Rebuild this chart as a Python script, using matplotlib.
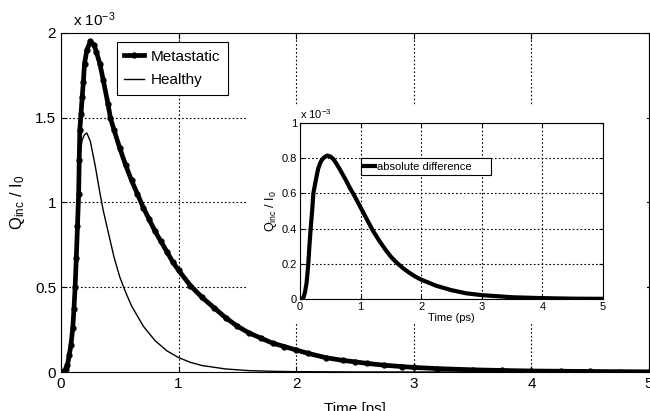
import matplotlib.pyplot as plt
from matplotlib.patches import Rectangle
import numpy as np

plt.rcParams['font.family'] = ['Liberation Sans', 'DejaVu Sans']
plt.rcParams['mathtext.default'] = 'regular'

# Time axis values (ps), signal in units of 1e-3
t_meta = [0, 0.02, 0.04, 0.055, 0.07, 0.085, 0.1, 0.11, 0.12, 0.13, 0.14, 0.15,
          0.155, 0.16, 0.17, 0.18, 0.19, 0.2, 0.22, 0.25, 0.28, 0.3, 0.33, 0.36,
          0.4, 0.42, 0.45, 0.5, 0.55, 0.6, 0.65, 0.7, 0.75, 0.8, 0.85, 0.9, 0.95,
          1.0, 1.1, 1.2, 1.3, 1.4, 1.5, 1.6, 1.7, 1.8, 1.9, 2.0, 2.1, 2.25, 2.4,
          2.5, 2.6, 2.75, 2.9, 3.0, 3.2, 3.5, 3.75, 4.0, 4.25, 4.5, 4.75, 5.0]
q_meta = [0, 0, 0.02, 0.04, 0.1, 0.16, 0.26, 0.37, 0.5, 0.67, 0.86, 1.05,
          1.25, 1.43, 1.52, 1.62, 1.71, 1.82, 1.9, 1.95, 1.93, 1.89, 1.82, 1.72,
          1.58, 1.5, 1.43, 1.32, 1.22, 1.13, 1.05, 0.97, 0.9, 0.83, 0.77, 0.71, 0.65,
          0.6, 0.51, 0.44, 0.38, 0.32, 0.27, 0.23, 0.2, 0.17, 0.15, 0.13, 0.11, 0.085, 0.068,
          0.06, 0.051, 0.04, 0.032, 0.027, 0.02, 0.013, 0.009, 0.006, 0.0045, 0.003, 0.002, 0.001]

t_healthy = [0, 0.02, 0.04, 0.055, 0.07, 0.085, 0.1, 0.11, 0.12, 0.13, 0.14, 0.15,
             0.16, 0.18, 0.2, 0.22, 0.25, 0.29, 0.33, 0.36, 0.4, 0.45, 0.5, 0.55,
             0.6, 0.7, 0.8, 0.9, 1.0, 1.1, 1.2, 1.4, 1.6, 1.8, 2.0, 2.5, 3.0, 4.0, 5.0]
q_healthy = [0, 0, 0.02, 0.04, 0.1, 0.16, 0.26, 0.37, 0.5, 0.67, 0.86, 1.05,
             1.28, 1.37, 1.40, 1.41, 1.36, 1.22, 1.06, 0.95, 0.83, 0.68, 0.56, 0.47,
             0.39, 0.27, 0.185, 0.125, 0.085, 0.057, 0.038, 0.018, 0.008, 0.004, 0.002, 0.0003, 0, 0, 0]

t_diff = [0, 0.03, 0.06, 0.083, 0.11, 0.137, 0.155, 0.176, 0.2, 0.22, 0.25, 0.275,
          0.3, 0.33, 0.36, 0.4, 0.45, 0.5, 0.55, 0.6, 0.66, 0.75, 0.825, 0.9, 1.0,
          1.1, 1.2, 1.3, 1.4, 1.5, 1.6, 1.7, 1.8, 1.9, 2.0, 2.25, 2.5, 2.75, 3.0,
          3.5, 4.0, 4.5, 5.0]
q_diff = [0, 0, 0.01, 0.04, 0.095, 0.2, 0.3, 0.4, 0.5, 0.6, 0.655, 0.7,
          0.74, 0.77, 0.79, 0.805, 0.815, 0.81, 0.795, 0.77, 0.735, 0.68, 0.63, 0.585, 0.52,
          0.455, 0.39, 0.335, 0.285, 0.24, 0.205, 0.175, 0.15, 0.128, 0.11, 0.075, 0.05, 0.032, 0.022,
          0.01, 0.005, 0.002, 0.001]

grid_kw = dict(color='black', linestyle=(0, (1.5, 2)), linewidth=0.8)

fig = plt.figure(figsize=(6.5, 4.11), dpi=100)
ax = fig.add_axes([61/650, 1-372/411, 588/650, 339/411])
ax.set_zorder(0)

ax.plot(t_meta, q_meta, color='black', linewidth=3.4, marker='o', markersize=3.5,
        label='Metastatic')
ax.plot(t_healthy, q_healthy, color='black', linewidth=1.0, label='Healthy')
ax.set_xlim(0, 5)
ax.set_ylim(0, 2)
ax.set_xticks([0, 1, 2, 3, 4, 5])
ax.set_yticks([0, 0.5, 1, 1.5, 2])
ax.set_yticklabels(['0', '0.5', '1', '1.5', '2'])
ax.tick_params(direction='in', top=True, right=True, labelsize=11, length=4)
ax.grid(True, **grid_kw)
ax.set_xlabel('Time [ps]', fontsize=11, labelpad=8)
ax.set_ylabel('Q$_{inc}$ / I$_0$', fontsize=12, labelpad=6)
ax.text(0.02, 1.012, 'x 10$^{-3}$', transform=ax.transAxes, fontsize=11, va='bottom')
leg = ax.legend(loc='upper left', bbox_to_anchor=(0.095, 0.973), fontsize=11,
                fancybox=False, framealpha=1, edgecolor='black', handlelength=1.3,
                handletextpad=0.4, borderpad=0.5, labelspacing=0.6, borderaxespad=0)
leg.get_frame().set_linewidth(0.8)

# white backing behind the inset and its labels
fig.add_artist(Rectangle((248/650, 1-322/411), 399/650, 217/411,
                         transform=fig.transFigure, facecolor='white',
                         edgecolor='none', zorder=0.5))

ins = fig.add_axes([300/650, 1-299/411, 303/650, 176/411])
ins.set_zorder(1)
ins.plot(t_diff, q_diff, color='black', linewidth=3, label='absolute difference     ')
ins.set_xlim(0, 5)
ins.set_ylim(0, 1)
ins.set_xticks([0, 1, 2, 3, 4, 5])
ins.set_yticks([0, 0.2, 0.4, 0.6, 0.8, 1])
ins.set_yticklabels(['0', '0.2', '0.4', '0.6', '0.8', '1'])
ins.tick_params(direction='in', top=True, right=True, labelsize=8, length=3, pad=2)
ins.grid(True, **grid_kw)
ins.set_xlabel('Time (ps)', fontsize=8, labelpad=1)
ins.set_ylabel('Q$_{inc}$ / I$_0$', fontsize=9, labelpad=2)
ins.text(0.0, 1.01, 'x 10$^{-3}$', transform=ins.transAxes, fontsize=8, va='bottom')
leg2 = ins.legend(loc='upper left', bbox_to_anchor=(0.2, 0.80), fontsize=8,
                  fancybox=False, framealpha=1, edgecolor='black', handlelength=1.0,
                  handletextpad=0.2, borderpad=0.3, borderaxespad=0)
leg2.get_frame().set_linewidth(0.8)

fig.savefig('out.png', dpi=100)
